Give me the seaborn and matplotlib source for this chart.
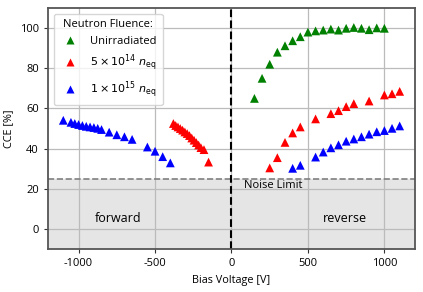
import numpy as np
import pandas as pd
import seaborn as sns
import matplotlib
matplotlib.use("Agg")
import matplotlib.pyplot as plt

# valores
v_unirr = [150, 200, 250, 300, 350, 400, 450, 500, 550, 600, 650, 700, 750, 800, 850, 900, 950, 1000]
cce_unirr = [65, 75, 82, 88, 91.2, 93.7, 95.7, 98, 98.6, 99, 99.5, 99, 99.9, 100.3, 99.9, 99.2, 100.1, 99.9]

v_5e14 = [-380, -365, -350, -335, -320, -305, -290, -275, -260, -245, -230, -215, -200, -180, -150,
          250, 300, 350, 400, 450, 550, 650, 700, 750, 800, 900, 1000, 1050, 1100]
cce_5e14 = [52.5, 51.5, 50.8, 50, 49.2, 48.3, 47.5, 46.5, 45.3, 44.2, 43, 41.8, 40.5, 39.5, 33.3,
            30.4, 35.5, 43.1, 47.8, 50.8, 54.8, 57.4, 58.9, 60.9, 62.4, 63.7, 66.7, 67.3, 68.5]

v_1e15 = [-1100, -1050, -1025, -1000, -975, -950, -925, -900, -875, -850, -800, -750, -700, -650,
          -550, -500, -450, -400,
          400, 450, 550, 600, 650, 700, 750, 800, 850, 900, 950, 1000, 1050, 1100]
cce_1e15 = [54.1, 53.1, 52.5, 52, 51.5, 51.1, 50.8, 50.5, 50.1, 49.5, 48.2, 46.9, 45.9, 44.6,
            40.8, 38.7, 36, 32.9,
            30.2, 31.7, 35.8, 38.3, 40.4, 41.9, 43.7, 44.8, 45.9, 47.2, 48.4, 49, 50.1, 51.3]

labels = ["Unirradiated", r"$5\times10^{14}\ n_\mathrm{eq}$", r"$1\times10^{15}\ n_\mathrm{eq}$"]
colores = ["green", "red", "blue"]
noise_limit = 25

df = pd.concat([
    pd.DataFrame({"V": v_unirr, "CCE": cce_unirr, "Fluence": labels[0]}),
    pd.DataFrame({"V": v_5e14, "CCE": cce_5e14, "Fluence": labels[1]}),
    pd.DataFrame({"V": v_1e15, "CCE": cce_1e15, "Fluence": labels[2]}),
])

sns.set_style("whitegrid")
plt.rcParams["font.family"] = ["Open Sans", "DejaVu Sans"]
plt.rcParams["axes.unicode_minus"] = False
plt.rcParams["mathtext.fontset"] = "dejavusans"
plt.rcParams["text.color"] = "black"
plt.rcParams["axes.labelcolor"] = "black"
plt.rcParams["xtick.color"] = "black"
plt.rcParams["ytick.color"] = "black"

fig, ax = plt.subplots(figsize=(4.23, 2.92), dpi=100)
fig.subplots_adjust(left=0.1135, right=0.981, top=0.9726, bottom=0.147)

ax.axhspan(-10, noise_limit, color="#e5e5e5", zorder=0)
ax.axhline(noise_limit, color="gray", linestyle="--", linewidth=1.2, zorder=1)
ax.axvline(0, color="black", linestyle="--", linewidth=1.5, zorder=1)

sns.scatterplot(data=df, x="V", y="CCE", hue="Fluence", palette=colores, marker="^",
                s=40, edgecolor="none", ax=ax, zorder=3)

ax.text(275, noise_limit - 0.5, "Noise Limit", ha="center", va="top", fontsize=8)
ax.text(-740, 5, "forward", ha="center", va="center", fontsize=9)
ax.text(740, 5, "reverse", ha="center", va="center", fontsize=9)

ax.set_xlim(-1200, 1200)
ax.set_ylim(-10, 110)
ax.set_xticks([-1000, -500, 0, 500, 1000])
ax.set_yticks([0, 20, 40, 60, 80, 100])
ax.tick_params(labelsize=8, length=3, color="#333333", left=True, bottom=True)
ax.set_xlabel("Bias Voltage [V]", fontsize=7.8)
ax.set_ylabel("CCE [%]", fontsize=7.8)
ax.grid(True, color="#bbbbbb", linewidth=0.9)
for s in ax.spines.values():
    s.set_color("#555555")
    s.set_linewidth(1.3)

leg = ax.legend(title="Neutron Fluence:", loc="upper left", fontsize=8, title_fontsize=8,
                frameon=True, framealpha=0.8, borderpad=0.5, handletextpad=0.8)

plt.savefig("out.png", dpi=100)
